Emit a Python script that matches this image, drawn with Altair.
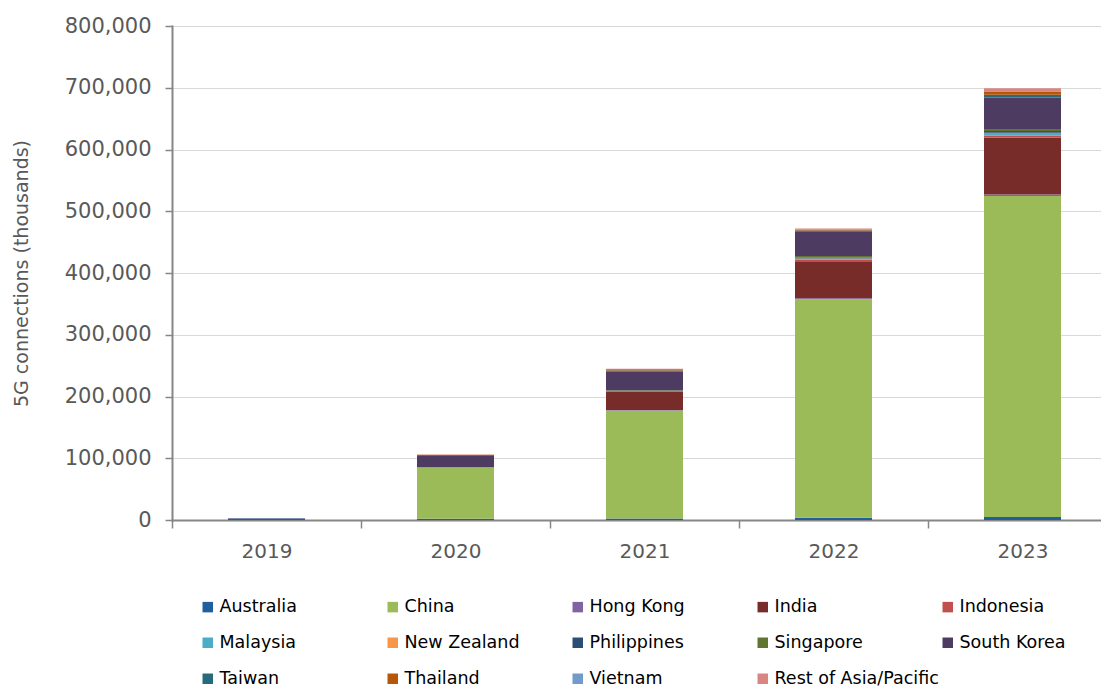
import altair as alt
import pandas as pd

years = ["2019", "2020", "2021", "2022", "2023"]
countries = ["Australia", "China", "Hong Kong", "India", "Indonesia",
             "Malaysia", "New Zealand", "Philippines", "Singapore", "South Korea",
             "Taiwan", "Thailand", "Vietnam", "Rest of Asia/Pacific"]
colors = ["#1F5F9E", "#9BBB59", "#8064A2", "#772C2A", "#C0504D",
          "#4BACC6", "#F79646", "#2C4D75", "#5F7530", "#4D3B62",
          "#276A7C", "#B65708", "#729ACA", "#D98683"]

australia   = [2500, 2000, 2500, 3500, 5000]
china       = [0, 83000, 175000, 354000, 519500]
hong_kong   = [0, 300, 800, 1500, 2500]
india       = [0, 0, 29000, 60000, 92000]
indonesia   = [0, 0, 500, 2500, 3700]
malaysia    = [0, 0, 200, 1500, 4000]
new_zealand = [0, 100, 200, 500, 600]
philippines = [0, 300, 1000, 1500, 2500]
singapore   = [0, 300, 1000, 2500, 3500]
south_korea = [500, 19000, 30000, 40000, 51000]
taiwan      = [0, 200, 2000, 1500, 4300]
thailand    = [0, 600, 2000, 1500, 5400]
vietnam     = [0, 0, 200, 500, 800]
rest        = [0, 100, 500, 1000, 4300]

series = [australia, china, hong_kong, india, indonesia, malaysia, new_zealand,
          philippines, singapore, south_korea, taiwan, thailand, vietnam, rest]

rows = []
for ci, (c, vals) in enumerate(zip(countries, series)):
    for y, v in zip(years, vals):
        rows.append({"year": y, "country": c, "value": v, "idx": ci})
df = pd.DataFrame(rows)

FONT = "DejaVu Sans"
GRAY = "#595959"

chart = alt.Chart(df).mark_bar(size=77).encode(
    x=alt.X("year:N", title=None, sort=years,
            scale=alt.Scale(paddingInner=0.0, paddingOuter=0.0, range=[0, 945]),
            axis=alt.Axis(labelAngle=0, labelFontSize=20, labelColor=GRAY,
                          labelFont=FONT, labelPadding=13, tickBand="extent",
                          tickSize=8, tickColor="#868686", tickWidth=1.5,
                          domainColor="#868686", domainWidth=2, grid=False)),
    y=alt.Y("value:Q", title="5G connections (thousands)", stack="zero",
            scale=alt.Scale(domain=[0, 800000], nice=False),
            axis=alt.Axis(values=list(range(0, 800001, 100000)), format=",d",
                          labelFontSize=21, labelColor=GRAY, labelFont=FONT,
                          labelPadding=14, tickSize=7, tickColor="#868686",
                          tickWidth=1.5, domainColor="#868686", domainWidth=2,
                          gridColor="#D9D9D9", gridWidth=1.2,
                          titleFontSize=19, titleFont=FONT, titleColor=GRAY,
                          titleFontWeight="normal", titlePadding=33)),
    color=alt.Color("country:N", sort=countries,
                    scale=alt.Scale(domain=countries, range=colors),
                    legend=alt.Legend(title=None, orient="none", legendX=27,
                                      legendY=572, columns=5, gridAlign="all",
                                      direction="horizontal",
                                      columnPadding=0, rowPadding=17,
                                      symbolType="square", symbolSize=110,
                                      symbolOpacity=1, symbolStrokeWidth=0,
                                      labelFontSize=17.5, labelFont=FONT,
                                      labelColor="#000000", labelOffset=3,
                                      labelLimit=220, symbolOffset=0)),
    order=alt.Order("idx:Q", sort="ascending"),
).properties(
    width=929, height=494,
    autosize=alt.AutoSizeParams(type="none"),
    padding={"left": 164, "top": 18, "right": 0, "bottom": 172},
).configure_view(stroke=None).configure_axis(domainCap="square")

chart.save("out.html", embed_options={"renderer": "svg", "actions": False})
